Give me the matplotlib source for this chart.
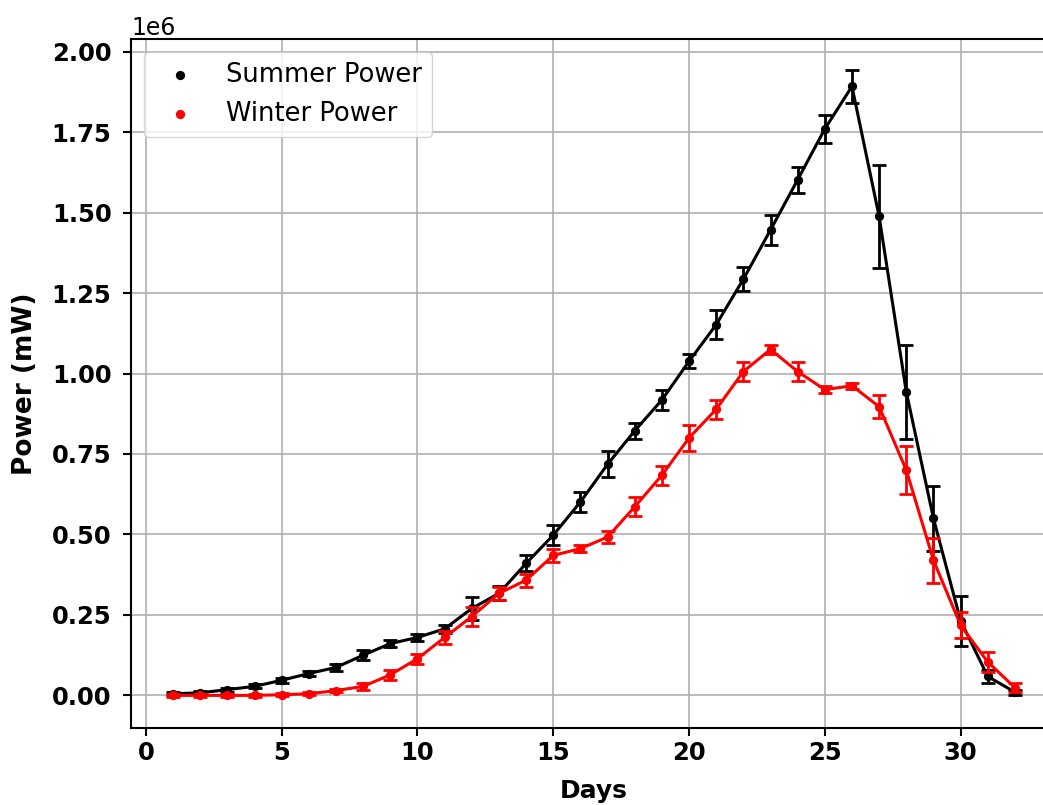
import numpy as np
import matplotlib
matplotlib.use("Agg")
import matplotlib.pyplot as plt

days = np.arange(1, 33)

summer_power = [0.005, 0.008, 0.018, 0.028, 0.047, 0.068, 0.087, 0.125,
                0.161, 0.180, 0.207, 0.270, 0.317, 0.410, 0.498, 0.601,
                0.718, 0.822, 0.918, 1.038, 1.152, 1.293, 1.446, 1.602,
                1.760, 1.892, 1.488, 0.943, 0.550, 0.232, 0.059, 0.010]
summer_err = [0.004, 0.005, 0.006, 0.006, 0.007, 0.008, 0.010, 0.015,
              0.010, 0.010, 0.012, 0.035, 0.022, 0.025, 0.030, 0.030,
              0.040, 0.025, 0.030, 0.022, 0.045, 0.037, 0.047, 0.040,
              0.043, 0.050, 0.160, 0.145, 0.100, 0.078, 0.020, 0.008]

winter_power = [0.000, 0.000, 0.000, 0.000, 0.002, 0.005, 0.015, 0.028,
                0.064, 0.114, 0.180, 0.245, 0.317, 0.358, 0.435, 0.456,
                0.492, 0.586, 0.684, 0.800, 0.889, 1.006, 1.075, 1.006,
                0.950, 0.962, 0.897, 0.700, 0.420, 0.218, 0.104, 0.024]
winter_err = [0.004, 0.004, 0.004, 0.004, 0.004, 0.005, 0.006, 0.010,
              0.015, 0.015, 0.020, 0.030, 0.020, 0.020, 0.020, 0.010,
              0.020, 0.030, 0.030, 0.040, 0.030, 0.030, 0.015, 0.030,
              0.010, 0.010, 0.035, 0.075, 0.070, 0.040, 0.030, 0.015]

scale = 1e6
summer_power = np.array(summer_power) * scale
summer_err = np.array(summer_err) * scale
winter_power = np.array(winter_power) * scale
winter_err = np.array(winter_err) * scale

fig = plt.figure(figsize=(10.43, 8.05), dpi=100)
ax = fig.add_axes([131 / 1043, 77 / 805, 926 / 1043, 689 / 805])

ax.errorbar(days, summer_power, yerr=summer_err, color="black", linewidth=2.2,
            elinewidth=2, capsize=5, capthick=2, zorder=2)
ax.scatter(days, summer_power, color="black", s=32, label="Summer Power", zorder=3)

ax.errorbar(days, winter_power, yerr=winter_err, color="red", linewidth=2.2,
            elinewidth=2, capsize=5, capthick=2, zorder=4)
ax.scatter(days, winter_power, color="red", s=32, label="Winter Power", zorder=5)

ax.grid(True, color="#b0b0b0", linewidth=1.2)
ax.set_axisbelow(True)

ax.set_xlabel("Days", fontsize=18, fontweight="bold", labelpad=10)
ax.set_ylabel("Power (mW)", fontsize=19, fontweight="bold", labelpad=10)
for lbl in ax.get_xticklabels() + ax.get_yticklabels():
    lbl.set_fontweight("bold")
ax.tick_params(labelsize=17.5, width=1.5, length=6)
ax.tick_params(axis="y", pad=8)
ax.yaxis.get_offset_text().set_fontsize(17)
for sp in ax.spines.values():
    sp.set_linewidth(1.5)

ax.legend(loc="upper left", fontsize=18.5)

plt.savefig("out.png", dpi=100)
